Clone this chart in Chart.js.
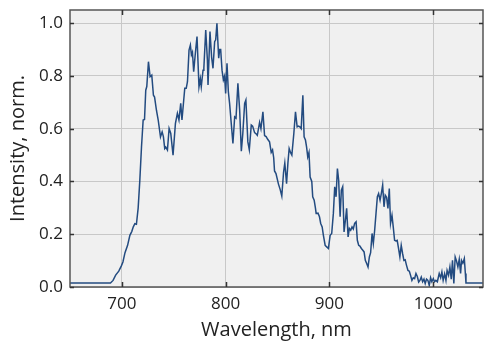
<!DOCTYPE html>
<html>
<head>
<meta charset="utf-8">
<script src="https://cdn.jsdelivr.net/npm/chart.js@4"></script>
<style>
  html, body { margin: 0; padding: 0; background: #ffffff; }
  #wrap { width: 484px; height: 344px; position: relative; }
</style>
</head>
<body>
<div id="wrap"><canvas id="c" width="484" height="344"></canvas></div>
<script>
// Wavelength (nm)
const wavelengths = [
  650, 689, 691.5, 694, 697, 699.5, 701, 703, 705.5, 707.7, 709.5, 711, 712.5, 714, 715.7, 717.3, 718.9, 720.5, 721.8, 723,
  724, 725.6, 727.2, 728.8, 730.4, 731.5, 733.3, 735, 737.2, 738.8, 740, 741.3, 742.3, 743.9, 745.5, 747.1, 749.3, 751.6, 753.5, 755,
  756.7, 757.9, 759.6, 760.6, 762, 763.2, 764.7, 766, 767, 768, 769.2, 770.8, 772.4, 774.3, 775.6, 776.5, 778.2, 779, 780.8, 782.4,
  783, 784.9, 786.5, 787.8, 789.4, 790.4, 791.6, 793.3, 794.2, 795.2, 796.5, 797.8, 799, 800, 801.3, 802.6, 803.8, 805.4, 807, 808.7,
  810, 811.8, 813.5, 815.1, 816.5, 818.3, 819.5, 821.4, 822.8, 824.7, 826, 827.9, 829.5, 830.5, 832.7, 834, 835.9, 837.5, 839, 840.5,
  842.3, 843.9, 845.2, 846.3, 847.1, 848.5, 850.9, 852.5, 854.1, 855.8, 857, 858.7, 860, 861.2, 862.5, 863.8, 865.7, 867.3, 868.9, 870.2,
  871.5, 872.8, 874.4, 875.6, 876.9, 878, 879.1, 880.3, 881.4, 883, 883.9, 885.3, 886.5, 887.2, 889, 890.4, 891.6, 893, 894.2, 895.9,
  897.4, 899, 900.7, 902.2, 903.8, 905.1, 906.4, 907.7, 908.9, 910.3, 911.5, 912.8, 914.1, 915.4, 916.6, 918, 919.2, 920.5, 921.8, 923,
  924.3, 925.7, 926.9, 928.2, 929.4, 930.8, 932, 933.4, 934.6, 935.9, 937.2, 938.5, 939.7, 941.1, 942.3, 943.6, 944.9, 946.2, 947.4, 948.8,
  950, 951.3, 952.6, 953.8, 955.1, 956.4, 957.7, 958.9, 960.3, 961.5, 962.8, 964, 965.3, 966.6, 967.9, 969.2, 970.5, 971.8, 973, 974.3,
  975.7, 977, 978.2, 979.5, 980.8, 982.1, 983.4, 984.7, 986, 987.2, 988.5, 989.8, 991.1, 992.3, 993.6, 994.9, 996.2, 997.5, 998.7, 1000.1,
  1001.3, 1002.6, 1004, 1005.8, 1007.2, 1008.4, 1009.6, 1011, 1012.3, 1013.4, 1014.8, 1016.1, 1017.4, 1018.6, 1019.9, 1021.2, 1022.4, 1023.8, 1025.1, 1026.4,
  1027.3, 1028.6, 1030, 1031, 1031.6, 1050
];
// Normalized intensity
const intensity = [
  0.015, 0.015, 0.025, 0.045, 0.06, 0.08, 0.095, 0.13, 0.158, 0.196, 0.21, 0.228, 0.24, 0.238, 0.3, 0.405, 0.531, 0.633, 0.635, 0.746,
  0.76, 0.854, 0.797, 0.803, 0.727, 0.72, 0.67, 0.633, 0.569, 0.588, 0.57, 0.525, 0.53, 0.519, 0.601, 0.582, 0.50, 0.62, 0.658, 0.633,
  0.696, 0.633, 0.709, 0.753, 0.753, 0.778, 0.898, 0.917, 0.88, 0.89, 0.816, 0.886, 0.949, 0.759, 0.79, 0.759, 0.822, 0.83, 0.974, 0.86,
  0.766, 0.968, 0.87, 0.829, 0.93, 0.937, 1.0, 0.867, 0.90, 0.90, 0.822, 0.785, 0.80, 0.734, 0.848, 0.74, 0.696, 0.62, 0.544, 0.645,
  0.64, 0.772, 0.67, 0.515, 0.58, 0.696, 0.709, 0.55, 0.52, 0.614, 0.61, 0.585, 0.58, 0.575, 0.624, 0.6, 0.664, 0.574, 0.57, 0.56,
  0.55, 0.51, 0.52, 0.49, 0.44, 0.43, 0.39, 0.37, 0.345, 0.435, 0.47, 0.392, 0.47, 0.525, 0.51, 0.50, 0.582, 0.664, 0.607, 0.61,
  0.607, 0.6, 0.727, 0.569, 0.557, 0.53, 0.493, 0.51, 0.417, 0.40, 0.342, 0.329, 0.30, 0.279, 0.28, 0.266, 0.241, 0.228, 0.196, 0.158,
  0.152, 0.146, 0.196, 0.203, 0.279, 0.38, 0.342, 0.449, 0.405, 0.266, 0.367, 0.38, 0.209, 0.253, 0.298, 0.19, 0.222, 0.215, 0.228, 0.22,
  0.241, 0.247, 0.177, 0.158, 0.155, 0.146, 0.14, 0.133, 0.101, 0.089, 0.076, 0.114, 0.13, 0.203, 0.165, 0.215, 0.279, 0.342, 0.354, 0.329,
  0.354, 0.386, 0.304, 0.348, 0.34, 0.298, 0.373, 0.241, 0.272, 0.228, 0.177, 0.175, 0.177, 0.146, 0.114, 0.158, 0.127, 0.101, 0.103, 0.082,
  0.063, 0.06, 0.044, 0.025, 0.035, 0.032, 0.051, 0.04, 0.019, 0.025, 0.038, 0.02, 0.03, 0.013, 0.03, 0.025, 0.006, 0.035, 0.02, 0.032,
  0.02, 0.025, 0.02, 0.051, 0.035, 0.057, 0.025, 0.05, 0.025, 0.063, 0.045, 0.076, 0.03, 0.101, 0.013, 0.114, 0.1, 0.076, 0.105, 0.051,
  0.101, 0.09, 0.108, 0.051, 0.015, 0.015
];
const xTicks = [700, 800, 900, 1000];
const yTicks = [0.0, 0.2, 0.4, 0.6, 0.8, 1.0];
const xLabel = 'Wavelength, nm';
const yLabel = 'Intensity, norm.';

const FONT = "'Open Sans', 'Noto Sans', sans-serif";

const frame = {
  id: 'frame',
  beforeDraw(chart) {
    const {ctx, chartArea: a} = chart;
    ctx.save();
    ctx.fillStyle = '#f0f0f0';
    ctx.fillRect(a.left, a.top, a.right - a.left, a.bottom - a.top);
    ctx.restore();
  },
  afterDraw(chart) {
    const {ctx, chartArea: a} = chart;
    const xs = chart.scales.x, ys = chart.scales.y;
    ctx.save();
    ctx.strokeStyle = '#555555';
    ctx.lineWidth = 1.5;
    ctx.strokeRect(a.left, a.top, a.right - a.left, a.bottom - a.top);
    ctx.strokeStyle = '#333333';
    ctx.lineWidth = 1.5;
    const L = 5;
    ctx.beginPath();
    xTicks.forEach(v => {
      const p = Math.round(xs.getPixelForValue(v)) + 0.5;
      ctx.moveTo(p, a.bottom); ctx.lineTo(p, a.bottom - L);
      ctx.moveTo(p, a.top); ctx.lineTo(p, a.top + L);
    });
    yTicks.forEach(v => {
      const p = Math.round(ys.getPixelForValue(v)) + 0.5;
      ctx.moveTo(a.left, p); ctx.lineTo(a.left + 4, p);
      ctx.moveTo(a.right, p); ctx.lineTo(a.right - 4, p);
    });
    ctx.stroke();
    ctx.restore();
  }
};

new Chart(document.getElementById('c'), {
  type: 'line',
  data: {
    datasets: [{
      data: wavelengths.map((w, i) => ({x: w, y: intensity[i]})),
      borderColor: '#234b80',
      borderWidth: 1.5,
      pointRadius: 0,
      tension: 0,
      fill: false
    }]
  },
  options: {
    responsive: false,
    animation: false,
    devicePixelRatio: 1,
    layout: { padding: { top: 10, right: 1, left: 0, bottom: 0 } },
    plugins: { legend: { display: false }, tooltip: { enabled: false } },
    scales: {
      x: {
        type: 'linear',
        min: 650, max: 1048,
        afterBuildTicks: s => { s.ticks = xTicks.map(v => ({value: v})); },
        afterFit: s => { s.height = 57; s.paddingLeft = 0; s.paddingRight = 0; },
        grid: { color: '#c8c8c8', lineWidth: 1, drawTicks: false },
        border: { display: false },
        ticks: { padding: 7, color: '#222222', font: { family: FONT, size: 17 }, maxRotation: 0,
                 callback: v => String(v) },
        title: { display: true, text: xLabel, color: '#222222', font: { family: FONT, size: 20 },
                 padding: { top: 0, bottom: 2 } }
      },
      y: {
        type: 'linear',
        min: 0, max: 1.05,
        afterBuildTicks: s => { s.ticks = yTicks.map(v => ({value: v})); },
        afterFit: s => { s.width = 70; s.paddingTop = 0; s.paddingBottom = 0; },
        grid: { color: '#c8c8c8', lineWidth: 1, drawTicks: false },
        border: { display: false },
        ticks: { padding: 7, color: '#222222', font: { family: FONT, size: 17 },
                 callback: v => Number(v).toFixed(1) },
        title: { display: true, text: yLabel, color: '#222222', font: { family: FONT, size: 20 },
                 padding: { top: 6, bottom: 0 } }
      }
    }
  },
  plugins: [frame]
});
</script>
</body>
</html>
